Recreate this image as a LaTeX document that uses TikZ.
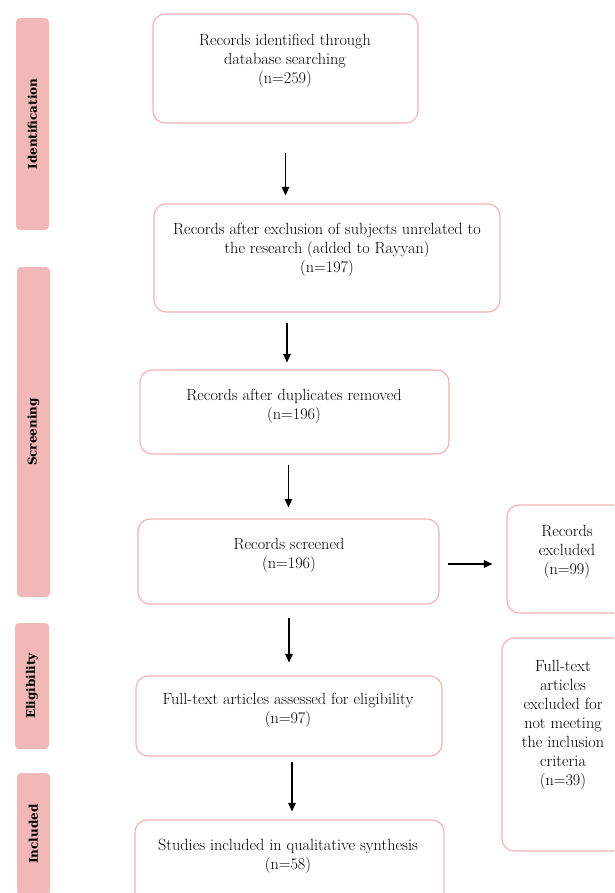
\documentclass[tikz,border=0pt]{standalone}
\usepackage{fontspec}
\newfontfamily\sidefont{DejaVu Serif}
\usetikzlibrary{arrows.meta}
\definecolor{pinkline}{HTML}{F3B0B0}
\definecolor{pinkbar}{HTML}{F2B7B7}
\begin{document}
\begin{tikzpicture}[x=1pt,y=-1pt,
  box/.style={draw=pinkline, line width=1.1pt, rounded corners=12pt, inner sep=0pt},
  bar/.style={fill=pinkbar, rounded corners=4pt, rotate=90, inner sep=0pt,
    font=\sidefont\bfseries\fontsize{12}{14}\selectfont},
  txt/.style={align=center, inner sep=0pt, font=\fontsize{16.2}{19}\selectfont},
  arr/.style={-{Triangle[length=8.5pt,width=7.5pt]}, line width=1.1pt}]
\useasboundingbox (0,0) rectangle (614,893);
\clip (0,0) rectangle (614,893);
% side bars
\node[bar, minimum width=212pt, minimum height=33pt] (s1) at (32.5,124) {Identification};
\node[bar, minimum width=330pt, minimum height=33pt] (s2) at (33.5,432) {Screening};
\node[bar, minimum width=126pt, minimum height=34pt] (s3) at (32,686) {Eligibility};
\node[bar, minimum width=122pt, minimum height=33pt] (s4) at (33.5,834) {Included};
% boxes
\node[box, minimum width=265pt, minimum height=109pt] (b1) at (285.5,68.5) {};
\node[box, minimum width=346pt, minimum height=108pt] (b2) at (327,258) {};
\node[box, minimum width=309pt, minimum height=84pt] (b3) at (294.5,412) {};
\node[box, minimum width=301pt, minimum height=85pt] (b4) at (288.5,561.5) {};
\node[box, minimum width=133pt, minimum height=108pt] (b5) at (573.5,559) {};
\node[box, minimum width=306pt, minimum height=80pt] (b6) at (289,716) {};
\node[box, minimum width=309pt, minimum height=110pt] (b7) at (289.5,875) {};
\node[box, minimum width=138pt, minimum height=213pt] (b8) at (571,744.5) {};
% texts
\node[txt] (t1) at (285,61) {Records identified through\\database searching\\(n=259)};
\node[txt] (t2) at (327,250) {Records after exclusion of subjects unrelated to\\the research (added to Rayyan)\\(n=197)};
\node[txt] (t3) at (294,406) {Records after duplicates removed\\(n=196)};
\node[txt] (t4) at (289,555) {Records screened\\(n=196)};
\node[txt] (t5) at (567,552) {Records\\excluded\\(n=99)};
\node[txt] (t6) at (288,710) {Full-text articles assessed for eligibility\\(n=97)};
\node[txt] (t7) at (288,856) {Studies included in qualitative synthesis\\(n=58)};
\node[txt] (t8) at (563,725) {Full-text\\articles\\excluded for\\not meeting\\the inclusion\\criteria\\(n=39)};
% arrows
\draw[arr] ([yshift=-29pt]b1.south) -- ([yshift=8pt]b2.north -| b1.south);
\draw[arr] ([xshift=-7.5pt,yshift=-10pt]b3.north |- b2.south) -- ([xshift=-7.5pt,yshift=7pt]b3.north);
\draw[arr] ([yshift=-10pt]b4.north |- b3.south) -- ([yshift=11pt]b4.north);
\draw[arr] ([xshift=8pt,yshift=-2.5pt]b4.east) -- ([xshift=-14pt,yshift=-2.5pt]b4.east -| b5.west);
\draw[arr] ([yshift=-13pt]b6.north |- b4.south) -- ([yshift=13pt]b6.north);
\draw[arr] ([xshift=2.5pt,yshift=-5pt]b7.north |- b6.south) -- ([xshift=2.5pt,yshift=8pt]b7.north);
\end{tikzpicture}
\end{document}
